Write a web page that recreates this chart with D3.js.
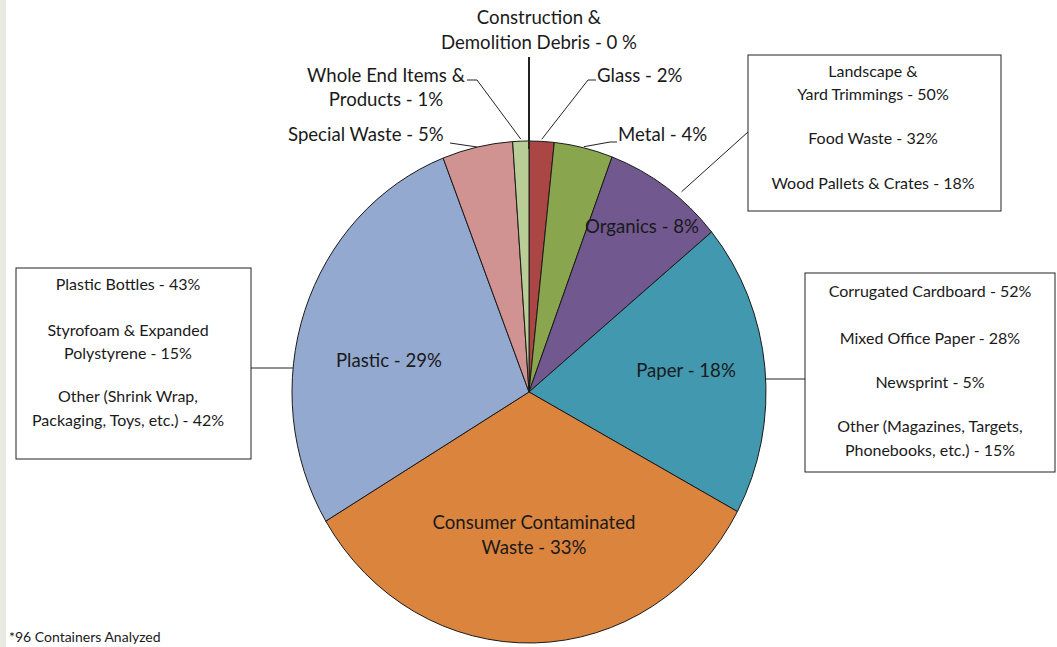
<!DOCTYPE html>
<html><head><meta charset="utf-8">
<script src="https://cdn.jsdelivr.net/npm/d3@7"></script>
<style>
html,body{margin:0;padding:0;background:#fff;}
svg{display:block;}
text{font-family:Lato,"Open Sans",sans-serif;fill:#1a1a1a;}
</style></head><body>
<svg id="chart" width="1057" height="647"></svg>
<script>
// ---- data ----
const categories = ["Construction & Demolition Debris","Glass","Metal","Organics","Paper","Consumer Contaminated Waste","Plastic","Special Waste","Whole End Items & Products"];
const shares = [0, 1.7, 4.0, 8.3, 18.9, 33.5, 27.7, 4.8, 1.1];   // slice sizes (%)
const labelPct = ["0 %","2%","4%","8%","18%","33%","29%","5%","1%"];
const colors = ["#999999","#aa4643","#89a54e","#71588f","#4198af","#db843d","#93a9cf","#d19392","#b9cd96"];
const organicsBreakdown = [["Landscape &","Yard Trimmings - 50%"],["Food Waste - 32%"],["Wood Pallets & Crates - 18%"]];
const paperBreakdown = [["Corrugated Cardboard - 52%"],["Mixed Office Paper - 28%"],["Newsprint - 5%"],["Other (Magazines, Targets,","Phonebooks, etc.) - 15%"]];
const plasticBreakdown = [["Plastic Bottles - 43%"],["Styrofoam & Expanded","Polystyrene - 15%"],["Other (Shrink Wrap,","Packaging,  Toys, etc.) - 42%"]];
const footnote = "*96 Containers Analyzed";

// ---- layout ----
const svg = d3.select("#chart");
const cx = 529, cy = 392, r = 237, sy = 251/237;
const pieFont = 18.6, boxFont = 16;

svg.append("rect").attr("x",0).attr("y",0).attr("width",6).attr("height",647).attr("fill","#e9ebe3");

const pie = d3.pie().sort(null).value(d => d)(shares);
const arc = d3.arc().innerRadius(0).outerRadius(r);

const g = svg.append("g").attr("transform",`translate(${cx},${cy}) scale(1,${sy})`);
g.selectAll("path").data(pie).join("path")
  .attr("d", arc)
  .attr("fill", (d,i) => colors[i])
  .attr("stroke", "#1a1a1a")
  .attr("stroke-width", 1)
  .attr("vector-effect","non-scaling-stroke");

function edgePt(angle, rr){ return [cx + rr*Math.sin(angle), cy - rr*Math.cos(angle)*sy]; }
function mid(i){ return (pie[i].startAngle + pie[i].endAngle)/2; }
function edgeX(y, side){ const t=(y-cy)/(r*sy); return cx + side*r*Math.sqrt(1-t*t); }

const lines = svg.append("g").attr("stroke","#222").attr("fill","none").attr("stroke-width",1);
const lineGen = d3.line();

function multiText(x, y, arr, size, lh, anchor){
  const t = svg.append("text").attr("font-size",size).attr("text-anchor",anchor||"middle");
  arr.forEach((s,k)=> t.append("tspan").attr("x",x).attr("y",y+k*lh).text(s));
  return t;
}

// Outer labels
multiText(539, 24, ["Construction &","Demolition Debris - "+labelPct[0]], pieFont, 25);
const topPt = edgePt(pie[0].startAngle, r);
lines.append("path").attr("stroke-width",2).attr("d", lineGen([[cx,57],[topPt[0], topPt[1]+8]]));
multiText(386, 82, ["Whole End Items &","Products - "+labelPct[8]], pieFont, 24);
lines.append("path").attr("d", lineGen([[467,80],[477,80], edgePt(mid(8), r+2)]));
multiText(597, 82, ["Glass - "+labelPct[1]], pieFont, 24, "start");
lines.append("path").attr("d", lineGen([[596,80],[588,80], edgePt(mid(1), r+2)]));
multiText(288, 141, ["Special Waste - "+labelPct[7]], pieFont, 24, "start");
lines.append("path").attr("d", lineGen([[450,143], edgePt(mid(7), r)]));
multiText(618, 141, ["Metal - "+labelPct[2]], pieFont, 24, "start");
lines.append("path").attr("d", lineGen([[617,142],[610,142], edgePt(mid(2), r+1)]));

// Organics box
const ob = {x:748, y:55, w:253, h:156};
svg.append("rect").attr("x",ob.x).attr("y",ob.y).attr("width",ob.w).attr("height",ob.h).attr("fill","#fff").attr("stroke","#222");
multiText(873, 77, organicsBreakdown[0], boxFont, 23);
multiText(873, 144, organicsBreakdown[1], boxFont, 23);
multiText(873, 189, organicsBreakdown[2], boxFont, 23);
lines.append("path").attr("d", lineGen([[ob.x,132], edgePt(mid(3)+0.06, r+6)]));

// Paper box
const pb = {x:805, y:273, w:250, h:199};
svg.append("rect").attr("x",pb.x).attr("y",pb.y).attr("width",pb.w).attr("height",pb.h).attr("fill","#fff").attr("stroke","#222");
multiText(930, 297, paperBreakdown[0], boxFont, 24);
multiText(930, 344, paperBreakdown[1], boxFont, 24);
multiText(930, 388, paperBreakdown[2], boxFont, 24);
multiText(930, 432, paperBreakdown[3], boxFont, 24);
lines.append("path").attr("d", lineGen([[edgeX(379,1),379],[pb.x,379]]));

// Plastic box
const lb = {x:16, y:268, w:235, h:191};
svg.append("rect").attr("x",lb.x).attr("y",lb.y).attr("width",lb.w).attr("height",lb.h).attr("fill","#fff").attr("stroke","#222");
multiText(128, 290, plasticBreakdown[0], boxFont, 23);
multiText(128, 336, plasticBreakdown[1], boxFont, 23);
multiText(128, 402, plasticBreakdown[2], boxFont, 24);
lines.append("path").attr("d", lineGen([[lb.x+lb.w,368],[edgeX(368,-1),368]]));

// inside labels
multiText(642, 233, ["Organics - "+labelPct[3]], pieFont, 24);
multiText(686, 377, ["Paper - "+labelPct[4]], pieFont, 24);
multiText(534, 529, ["Consumer Contaminated","Waste - "+labelPct[5]], pieFont, 25);
multiText(389, 367, ["Plastic - "+labelPct[6]], pieFont, 24);

svg.append("text").attr("x",9).attr("y",642).attr("font-size",14).text(footnote);
</script>
</body></html>
